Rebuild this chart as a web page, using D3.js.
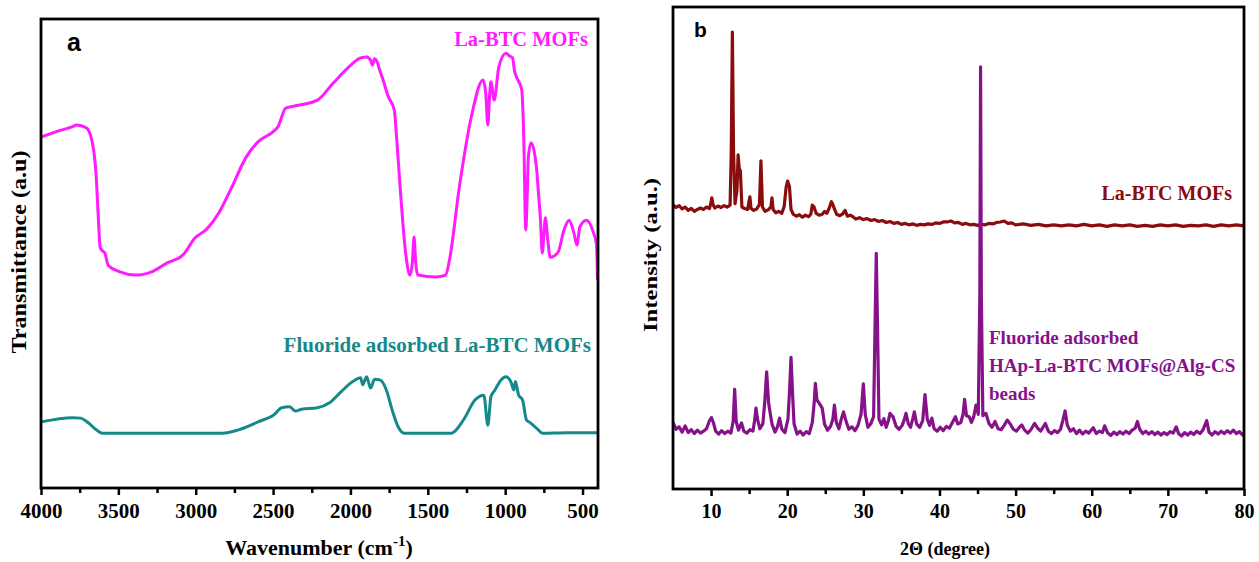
<!DOCTYPE html>
<html>
<head>
<meta charset="utf-8">
<script src="https://cdn.jsdelivr.net/npm/d3@7"></script>
<style>
  body { margin: 0; background: #fff; }
  svg { display: block; font-family: "Liberation Serif", "Times New Roman", serif; font-weight: bold; }
</style>
</head>
<body>
<svg id="chart" width="1259" height="562"></svg>
<script>
// ---- panel a: FTIR (wavenumber, transmittance a.u.) ----
const laBtcFtir = [
  [4000,74.8],[3900,76.0],[3800,77.0],[3770,77.4],[3707,76.8],[3668,73.6],[3643,66.3],[3630,58],
  [3617,51.2],[3600,50.5],[3587,50.1],[3566,47.5],[3490,46.1],[3388,45.4],[3286,46.1],[3184,48.0],
  [3082,49.7],[3005,53.3],[2929,55.2],[2852,58.6],[2776,63.5],[2673,70.6],[2597,73.8],[2495,76.1],
  [2469,77.0],[2418,81.0],[2367,81.4],[2214,82.7],[2112,86.3],[2010,89.8],[1934,91.7],[1895,91.9],
  [1870,91.2],[1857,90.2],[1845,91.5],[1832,91.2],[1810,89],[1793,87.4],[1755,83.4],[1717,80.6],
  [1700,74],[1679,64.2],[1640,49.2],[1615,45.4],[1600,48],[1589,53.5],[1578,48],[1564,45.4],
  [1449,45.0],[1385,45.4],[1360,48.6],[1296,64.2],[1219,79.1],[1143,87.0],[1125,84],[1112,77.4],
  [1100,84],[1092,86.6],[1071,82.7],[1041,89.8],[995,92.7],[975,92.2],[952,91.7],[940,89],
  [926,87.6],[893,84.9],[880,75],[867,55.0],[858,62],[850,70.6],[832,73.6],[798,68.4],[785,63],
  [773,57.8],[760,50.1],[750,54],[740,57.6],[725,53],[709,49.2],[658,50.3],[620,55.0],[587,57.1],
  [556,54.4],[536,51.8],[518,55.6],[475,57.1],[429,54.4],[410,52],[403,44.3]
];
const fluorideFtir = [
  [4000,14.1],[3796,15.0],[3745,14.9],[3694,13.9],[3643,12.4],[3605,11.7],[3200,11.7],[2827,11.7],
  [2724,12.4],[2597,14.1],[2495,15.6],[2444,17.1],[2393,17.3],[2355,16.4],[2316,16.8],[2214,17.1],
  [2138,18.1],[2061,20.5],[1985,22.7],[1934,23.5],[1921,22.0],[1895,23.7],[1870,21.3],[1844,23.2],
  [1806,23.0],[1768,20.9],[1730,16.6],[1691,13.0],[1653,11.7],[1347,11.7],[1270,14.5],[1194,18.8],
  [1138,19.8],[1112,13.4],[1092,19.5],[1066,20.9],[1028,23.0],[995,23.7],[964,22.7],[944,20.9],
  [934,22.7],[913,19.8],[888,18.8],[862,14.5],[837,13.9],[786,12.4],[760,11.7],[600,11.8],[400,11.8]
];
const ftirTicks = [4000, 3500, 3000, 2500, 2000, 1500, 1000, 500];
const ftirMinor = [3750, 3250, 2750, 2250, 1750, 1250, 750];

// ---- panel b: XRD (2theta, intensity a.u.) ----
const laBtcXrd = [
  [5,59.0],[5.4,58.4],[5.8,58.8],[6.2,58.1],[6.6,58.5],[7,57.8],[7.4,58.2],[7.8,57.6],[8.2,58.0],
  [8.6,58.3],[9,58.0],[9.4,58.5],[9.8,58.2],[10.0,59.5],[10.1,60.4],[10.25,59],[10.5,58.3],
  [10.9,58.7],[11.3,58.4],[11.7,58.8],[12.1,58.5],[12.5,58.9],[12.65,70],[12.8,94.8],[12.95,70],
  [13.15,59.2],[13.4,62],[13.55,69.3],[13.7,66.5],[13.85,66],[14.05,58.5],[14.4,58.2],[14.8,58.0],
  [15.0,59.8],[15.1,60.6],[15.25,58.2],[15.6,57.8],[16.0,58.1],[16.35,59],[16.55,68.1],[16.75,58.5],
  [17.1,57.6],[17.5,57.9],[17.85,58.5],[18.0,60.4],[18.15,58],[18.5,57.3],[18.9,57.6],[19.3,57.2],
  [19.6,58.6],[19.85,62.5],[20.05,63.9],[20.3,62.7],[20.5,58],[20.8,57.0],[21.2,56.6],[21.6,56.9],
  [22,56.4],[22.4,56.8],[22.8,56.5],[23.1,57],[23.3,58.9],[23.5,58.6],[23.8,57.2],[24.2,56.8],
  [24.6,57.0],[24.9,57.6],[25.2,57.2],[25.5,58.2],[25.8,59.6],[26.0,59.0],[26.2,58.1],[26.5,57.0],
  [26.9,56.7],[27.3,57.1],[27.6,57.8],[27.9,56.6],[28.3,56.8],[28.7,56.4],[29,56.0],[29.5,56.3],
  [30,55.9],[30.5,56.1],[31,55.7],[31.5,55.9],[32,55.5],[32.5,55.7],[33,55.3],[33.5,55.5],[34,55.1],
  [34.5,55.3],[35,54.9],[35.5,55.1],[36,54.8],[36.5,55.0],[37,54.7],[37.5,54.9],[38,54.8],[38.5,55.0],
  [39,54.9],[39.5,55.2],[40,55.1],[40.5,55.4],[41,55.4],[41.5,55.6],[42,55.2],[42.5,55.3],[43,54.9],
  [43.5,55.1],[44,54.8],[44.5,54.9],[45,54.7],[45.5,54.9],[46,54.8],[46.5,55.1],[47,55.0],[47.5,55.3],
  [48,55.4],[48.5,55.6],[49,55.1],[49.5,55.2],[50,54.8],[51,55.0],[52,54.7],[53,54.9],[54,54.6],
  [55,54.8],[56,54.6],[57,54.8],[58,54.6],[59,54.9],[60,54.6],[61,54.8],[62,54.5],[63,54.8],[64,54.6],
  [65,54.8],[66,54.5],[67,54.7],[68,54.5],[69,54.8],[70,54.6],[71,54.8],[72,54.5],[73,54.7],[74,54.6],
  [75,54.8],[76,54.5],[77,54.8],[78,54.6],[79,54.8],[80,54.6]
];
const fluorideXrd = [
  [5,13.8],[5.4,12.4],[5.8,12.9],[6.2,11.8],[6.6,13.1],[7,11.7],[7.4,12.3],[7.8,11.5],[8.2,12.2],
  [8.6,11.6],[9,12.0],[9.4,12.5],[9.8,14.2],[10.05,14.8],[10.3,13.8],[10.6,12.0],[11,11.4],[11.4,12.1],
  [11.8,11.5],[12.2,12.0],[12.6,11.6],[12.9,14],[13.1,20.7],[13.3,14],[13.6,12.2],[14.0,13.7],[14.3,12],
  [14.7,11.6],[15.1,12.3],[15.5,12.0],[15.75,14.5],[15.9,16.8],[16.1,14.5],[16.4,12.5],[16.8,13.5],
  [17.05,18],[17.3,24.3],[17.55,18],[17.7,16.4],[18.0,13.5],[18.4,11.8],[18.7,12.8],[19.0,14.7],
  [19.3,12.4],[19.7,11.7],[20.1,14.5],[20.3,20],[20.5,27.3],[20.7,20],[20.9,13.5],[21.3,11.4],
  [21.7,12.0],[22.1,11.2],[22.5,11.9],[22.9,11.5],[23.3,13.8],[23.55,18],[23.7,21.9],[23.9,18.5],
  [24.2,17.8],[24.6,16.8],[24.9,13.5],[25.3,12.2],[25.7,13.0],[26.0,14.5],[26.2,17.4],[26.45,13.8],
  [26.8,12.5],[27.1,14.5],[27.4,16.0],[27.7,14.2],[28.1,12.4],[28.5,12.9],[28.9,12.1],[29.3,13.2],
  [29.7,15.5],[30.0,21.8],[30.25,15.5],[30.6,12.8],[31.0,13.6],[31.35,15],[31.55,35],[31.7,48.9],
  [31.85,35],[32.05,14.5],[32.4,13.3],[32.7,14.6],[33.0,12.8],[33.3,14.2],[33.5,15.7],[33.9,15.0],
  [34.3,13.0],[34.7,12.4],[35.1,13.2],[35.4,14.5],[35.6,15.7],[35.9,13.6],[36.2,12.8],[36.5,14.6],
  [36.7,16.0],[37.0,13.5],[37.4,12.8],[37.8,14.2],[38.1,19.6],[38.4,14.5],[38.7,13.2],[39.0,14.7],
  [39.3,12.5],[39.7,12.0],[40.1,12.8],[40.5,12.1],[40.9,13.0],[41.3,12.6],[41.7,13.8],[42.1,15.0],
  [42.4,13.5],[42.8,13.8],[43.1,15.5],[43.3,18.6],[43.55,15.2],[43.9,15.0],[44.2,13.8],[44.5,15.0],
  [44.8,17.4],[45.1,15.5],[45.3,40],[45.4,87.6],[45.5,40],[45.7,15.2],[46.1,15.7],[46.5,13.6],
  [46.9,12.8],[47.3,14.0],[47.7,12.5],[48.1,12.3],[48.5,13.2],[48.9,14.3],[49.3,13.5],[49.7,12.4],
  [50.1,12.0],[50.5,12.8],[50.8,13.3],[51.2,12.2],[51.6,11.6],[52.0,12.3],[52.5,13.6],[52.9,12.6],
  [53.3,12.0],[53.6,12.8],[53.9,13.6],[54.3,12.0],[54.7,11.5],[55.1,12.1],[55.5,11.7],[55.9,12.4],
  [56.2,14.2],[56.5,16.2],[56.8,13.2],[57.2,12.0],[57.6,12.5],[58.0,11.5],[58.4,12.2],[58.8,11.4],
  [59.2,12.0],[59.6,11.6],[60.2,12.7],[60.6,11.5],[61.0,12.0],[61.4,11.7],[61.7,13.1],[62.1,11.6],
  [62.5,11.1],[62.9,11.8],[63.3,11.3],[63.7,11.9],[64.1,11.4],[64.5,12.0],[64.9,11.5],[65.3,12.2],
  [65.7,12.6],[66.0,14.0],[66.3,12.4],[66.7,11.5],[67.1,12.0],[67.5,11.4],[67.9,11.9],[68.3,11.3],
  [68.7,11.8],[69.1,11.2],[69.5,11.7],[69.9,11.3],[70.3,11.9],[70.7,11.6],[71.1,12.9],[71.4,11.5],
  [71.8,11.0],[72.2,11.7],[72.6,11.2],[73.0,11.8],[73.4,11.3],[73.8,12.0],[74.2,11.5],[74.6,12.2],
  [75.1,14.2],[75.4,11.8],[75.8,11.2],[76.2,11.9],[76.6,11.4],[77.0,12.0],[77.4,11.5],[77.8,12.1],
  [78.2,11.6],[78.6,12.2],[79.0,11.5],[79.4,11.9],[79.8,11.2],[80,11.6]
];
const xrdTicks = [10, 20, 30, 40, 50, 60, 70, 80];
const xrdMinor = [15, 25, 35, 45, 55, 65, 75];

const svg = d3.select('#chart');

function drawPanel(opt) {
  const x = d3.scaleLinear().domain(opt.xDomain).range([opt.left, opt.right]);
  const y = d3.scaleLinear().domain([0, 100]).range([opt.bottom, opt.top]);
  const g = svg.append('g');

  opt.series.forEach(s => {
    const line = d3.line()
      .x(d => x(d[0]))
      .y(d => y(d[1]))
      .curve(s.smooth ? d3.curveMonotoneX : d3.curveLinear);
    // sort ascending so the monotone curve is happy
    const pts = s.data.slice().sort((a, b) => a[0] - b[0]);
    g.append('path')
      .datum(pts)
      .attr('fill', 'none')
      .attr('stroke', s.color)
      .attr('stroke-width', s.width)
      .attr('stroke-linejoin', 'round')
      .attr('d', line);
  });

  // minor ticks first, then labelled ones
  g.append('g')
    .attr('transform', `translate(0, ${opt.bottom})`)
    .call(d3.axisBottom(x).tickValues(opt.minor).tickSize(5).tickFormat(''))
    .call(a => a.select('.domain').remove())
    .call(a => a.selectAll('.tick line').attr('stroke-width', 2.5));

  g.append('g')
    .attr('transform', `translate(0, ${opt.bottom})`)
    .call(d3.axisBottom(x).tickValues(opt.ticks).tickSize(7).tickPadding(8).tickFormat(d3.format('d')))
    .call(a => a.select('.domain').remove())
    .call(a => a.selectAll('.tick line').attr('stroke-width', 2.5))
    .call(a => a.selectAll('.tick text')
      .attr('font-family', '"Liberation Serif", serif')
      .attr('font-weight', 'bold')
      .attr('font-size', opt.tickFont)
      .attr('fill', '#000'));

  g.append('rect')
    .attr('x', opt.left).attr('y', opt.top)
    .attr('width', opt.right - opt.left).attr('height', opt.bottom - opt.top)
    .attr('fill', 'none').attr('stroke', '#000').attr('stroke-width', 2.8);

  return { g, x, y };
}

// panel a
const pa = drawPanel({
  left: 41, right: 598, top: 19, bottom: 488,
  xDomain: [4000, 400], ticks: ftirTicks, minor: ftirMinor, tickFont: 21,
  series: [
    { data: laBtcFtir, color: '#ff1aff', width: 3, smooth: true },
    { data: fluorideFtir, color: '#15898a', width: 3, smooth: true }
  ]
});

pa.g.append('text').attr('x', 67).attr('y', 51)
  .attr('font-family', '"Liberation Sans", Arial, sans-serif').attr('font-size', 25)
  .text('a');
pa.g.append('text').attr('x', 588).attr('y', 46).attr('text-anchor', 'end')
  .attr('fill', '#ff1aff').attr('font-size', 20.5).text('La-BTC MOFs');
pa.g.append('text').attr('x', 591).attr('y', 352).attr('text-anchor', 'end')
  .attr('fill', '#15898a').attr('font-size', 21).text('Fluoride adsorbed La-BTC MOFs');

const xTitleA = pa.g.append('text').attr('x', 319).attr('y', 555)
  .attr('text-anchor', 'middle').attr('font-size', 22);
xTitleA.append('tspan').text('Wavenumber (cm');
xTitleA.append('tspan').attr('dy', -9).attr('font-size', 15).text('-1');
xTitleA.append('tspan').attr('dy', 9).text(')');

pa.g.append('text')
  .attr('transform', 'translate(26, 252) rotate(-90)')
  .attr('text-anchor', 'middle').attr('font-size', 21)
  .attr('textLength', 203).attr('lengthAdjust', 'spacingAndGlyphs')
  .text('Transmittance (a.u)');

// panel b
const pb = drawPanel({
  left: 673, right: 1244, top: 7, bottom: 489,
  xDomain: [5, 80], ticks: xrdTicks, minor: xrdMinor, tickFont: 20,
  series: [
    { data: laBtcXrd, color: '#8b0c0c', width: 3.2 },
    { data: fluorideXrd, color: '#86128a', width: 3.2 }
  ]
});

pb.g.append('text').attr('x', 694).attr('y', 37)
  .attr('font-family', '"Liberation Sans", Arial, sans-serif').attr('font-size', 21)
  .text('b');
pb.g.append('text').attr('x', 1232).attr('y', 200).attr('text-anchor', 'end')
  .attr('fill', '#8b0c0c').attr('font-size', 20).text('La-BTC MOFs');

const legB = ['Fluoride adsorbed', 'HAp-La-BTC MOFs@Alg-CS', 'beads'];
pb.g.selectAll('.legb')
  .data(legB)
  .join('text')
  .attr('x', 989)
  .attr('y', (d, i) => 344 + i * 28)
  .attr('fill', '#86128a')
  .attr('font-size', 19)
  .text(d => d);

pb.g.append('text').attr('x', 945).attr('y', 555)
  .attr('text-anchor', 'middle').attr('font-size', 18)
  .text('2Θ (degree)');

pb.g.append('text')
  .attr('transform', 'translate(657, 255) rotate(-90)')
  .attr('text-anchor', 'middle').attr('font-size', 19)
  .attr('textLength', 154).attr('lengthAdjust', 'spacingAndGlyphs')
  .text('Intensity (a.u.)');
</script>
</body>
</html>
